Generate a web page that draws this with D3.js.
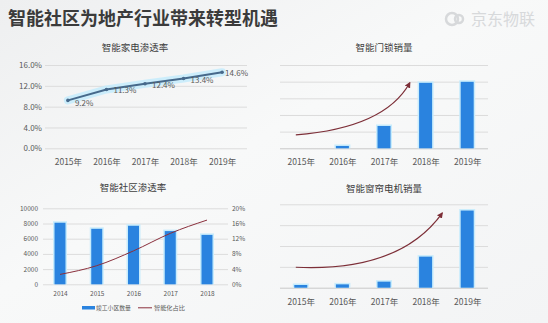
<!DOCTYPE html>
<html><head><meta charset="utf-8">
<script src="https://cdn.jsdelivr.net/npm/d3@7"></script>
<style>
html,body{margin:0;padding:0;background:#f5f6f7;}
svg{display:block;font-family:"Noto Sans CJK SC","Noto Sans",sans-serif;}
</style></head>
<body>
<svg id="c" width="548" height="323"></svg>
<script>
// ---------- data ----------
const mainTitle = "智能社区为地产行业带来转型机遇";
const logoText = "京东物联";
const years = ["2015年","2016年","2017年","2018年","2019年"];
const applianceRate = [9.2, 11.3, 12.4, 13.4, 14.6];
const applianceTicks = [0, 4, 8, 12, 16];
const lockSales = [0, 0.14, 1.34, 3.93, 3.99];
const lockTicks = [0, 1, 2, 3, 4, 5];
const curtainSales = [0.13, 0.16, 0.29, 1.49, 3.70];
const curtainTicks = [0, 1, 2, 3, 4];
const communityYears = ["2014","2015","2016","2017","2018"];
const completedCommunities = [8100, 7300, 7700, 7000, 6500];
const smartShare = [2.6, 4.9, 8.8, 13.4, 16.9];
const countTicks = [0, 2000, 4000, 6000, 8000, 10000];
const shareTicks = [0, 4, 8, 12, 16, 20];
const legendLabels = ["竣工小区数量", "智能化占比"];
// trend arrow annotations (category index, value)
const lockTrend = [[-0.12, 0.8], [2.02, 1.22], [2.62, 3.93]];
const curtainTrend = [[-0.12, 0.98], [2.38, 0.75], [3.4, 3.58]];

// ---------- styles ----------
const gridColor = "#dcdcdc", textColor = "#595959", barColor = "#2a83df", glowColor = "#c8ecfc";
const arrowColor = "#7d2f38";

const svg = d3.select("#c");
const defs = svg.append("defs");
const bg = defs.append("linearGradient").attr("id","bg").attr("x1",0).attr("y1",0).attr("x2",1).attr("y2",1);
bg.append("stop").attr("offset","0%").attr("stop-color","#eeeff0");
bg.append("stop").attr("offset","45%").attr("stop-color","#f8f9f9");
bg.append("stop").attr("offset","100%").attr("stop-color","#f3f4f5");
svg.append("rect").attr("width",548).attr("height",323).attr("fill","url(#bg)");

defs.append("marker").attr("id","arr").attr("viewBox","0 0 10 10").attr("refX",8).attr("refY",5)
  .attr("markerWidth",5).attr("markerHeight",5).attr("orient","auto")
  .append("path").attr("d","M0,0L10,5L0,10z").attr("fill",arrowColor);

// main title
svg.append("text").attr("x",8).attr("y",25).attr("font-size",18).attr("font-weight","bold")
  .attr("fill","#3b3b3b").text(mainTitle);
// logo
const logo = svg.append("g").attr("opacity",0.9);
logo.append("circle").attr("cx",452).attr("cy",19).attr("r",6).attr("fill","none").attr("stroke","#d4d6d8").attr("stroke-width",2.5);
logo.append("circle").attr("cx",459).attr("cy",19).attr("r",4).attr("fill","none").attr("stroke","#d4d6d8").attr("stroke-width",2.5);
logo.append("text").attr("x",471).attr("y",25).attr("font-size",16).attr("fill","#d4d6d8").text(logoText);

function title(x, y, t){
  svg.append("text").attr("x",x).attr("y",y).attr("text-anchor","middle").attr("font-size",9.5)
    .attr("fill","#404040").text(t);
}
function styleAxis(g, fs){
  g.select(".domain").remove();
  g.selectAll(".tick line").attr("stroke",gridColor).attr("stroke-width",1);
  g.selectAll(".tick text").attr("fill",textColor).attr("font-size",fs)
    .attr("font-family","'Noto Sans CJK SC','Noto Sans',sans-serif");
}

// ---------- Chart 1: line ----------
{
  const x = d3.scalePoint().domain(years).range([48.75, 241.25]).padding(0.5);
  const xr = [48.75-36, 241.25-36];
  const x1 = d3.scalePoint().domain(years).range([48.75, 241.25]).padding(0);
  const y = d3.scaleLinear().domain([0,16]).range([148.3, 65]);
  title(135, 51, "智能家电渗透率");
  const ya = svg.append("g").attr("transform","translate(45,0)")
    .call(d3.axisLeft(y).tickValues(applianceTicks).tickFormat(d=>d.toFixed(1)+"%").tickSizeInner(-202).tickSizeOuter(0).tickPadding(3));
  styleAxis(ya, 8);
  const xs = d3.scalePoint().domain(years).range([67.9, 222.1]);
  const xa = svg.append("g").attr("transform","translate(0,157)")
    .call(d3.axisBottom(xs).tickSize(0).tickPadding(2));
  styleAxis(xa, 8.5);
  const line = d3.line().x((d,i)=>xs(years[i])).y(d=>y(d));
  svg.append("path").datum(applianceRate).attr("d",line).attr("fill","none")
    .attr("stroke",glowColor).attr("stroke-width",8).attr("stroke-linecap","round").attr("opacity",0.9);
  svg.append("path").datum(applianceRate).attr("d",line).attr("fill","none")
    .attr("stroke","#46698b").attr("stroke-width",2);
  svg.selectAll(".c1pt").data(applianceRate).enter().append("circle")
    .attr("cx",(d,i)=>xs(years[i])).attr("cy",d=>y(d)).attr("r",1.8).attr("fill","#46698b");
  svg.selectAll(".c1lb").data(applianceRate).enter().append("text")
    .attr("x",(d,i)=>xs(years[i])+(i===4?3:7)).attr("y",(d,i)=>y(d)+(i===0?6:4))
    .attr("font-size",8).attr("fill",textColor).text(d=>d.toFixed(1)+"%");
}

// ---------- Bar chart helper (charts 2 & 4) ----------
function barChart(values, ticks, top, bottom, ttlY, label, trend){
  const xs = d3.scalePoint().domain(years).range([300.8, 467.2]);
  const y = d3.scaleLinear().domain([0, d3.max(ticks)]).range([bottom, top]);
  title(384, ttlY, label);
  const ya = svg.append("g").attr("transform","translate(280,0)")
    .call(d3.axisLeft(y).tickValues(ticks).tickFormat("").tickSizeInner(-208).tickSizeOuter(0));
  styleAxis(ya, 8);
  ya.selectAll(".tick line").filter(d=>d===0).attr("stroke","#c8c8c8");
  const xa = svg.append("g").attr("transform",`translate(0,${bottom+9})`)
    .call(d3.axisBottom(xs).tickSize(0).tickPadding(2));
  styleAxis(xa, 8.5);
  const bw = 13;
  const g = svg.append("g");
  g.selectAll(".glow").data(values).enter().append("rect")
    .attr("x",(d,i)=>xs(years[i])-bw/2-1.5).attr("width",bw+3)
    .attr("y",d=>y(d)-1.5).attr("height",d=>d>0?bottom-y(d)+1.5:0).attr("fill",glowColor);
  g.selectAll(".bar").data(values).enter().append("rect")
    .attr("x",(d,i)=>xs(years[i])-bw/2).attr("width",bw)
    .attr("y",d=>y(d)).attr("height",d=>bottom-y(d)).attr("fill",barColor);
  const xi = d3.scaleLinear().domain([0,4]).range([300.8, 467.2]);
  const p = trend.map(d=>[xi(d[0]), y(d[1])]);
  svg.append("path").attr("d",`M${p[0][0]},${p[0][1]}Q${p[1][0]},${p[1][1]} ${p[2][0]},${p[2][1]}`)
    .attr("fill","none").attr("stroke",arrowColor).attr("stroke-width",1.2).attr("marker-end","url(#arr)");
}
barChart(lockSales, lockTicks, 65, 148.3, 51, "智能门锁销量", lockTrend);
barChart(curtainSales, curtainTicks, 204.3, 287.7, 192, "智能窗帘电机销量", curtainTrend);

// ---------- Chart 3: combo ----------
{
  const xs = d3.scalePoint().domain(communityYears).range([60, 207]);
  const yl = d3.scaleLinear().domain([0,10000]).range([284.3, 208.3]);
  const yr = d3.scaleLinear().domain([0,20]).range([284.3, 208.3]);
  title(133, 191, "智能社区渗透率");
  const ya = svg.append("g").attr("transform","translate(43,0)")
    .call(d3.axisLeft(yl).tickValues(countTicks).tickFormat(d3.format("d")).tickSizeInner(-185).tickSizeOuter(0).tickPadding(5));
  styleAxis(ya, 6.5);
  const yb = svg.append("g").attr("transform","translate(228,0)")
    .call(d3.axisRight(yr).tickValues(shareTicks).tickFormat(d=>d+"%").tickSize(0).tickPadding(4));
  styleAxis(yb, 6.5);
  const xa = svg.append("g").attr("transform","translate(0,289)")
    .call(d3.axisBottom(xs).tickSize(0).tickPadding(2));
  styleAxis(xa, 6.5);
  const bw = 11;
  svg.selectAll(".c3g").data(completedCommunities).enter().append("rect")
    .attr("x",(d,i)=>xs(communityYears[i])-bw/2-1.5).attr("width",bw+3)
    .attr("y",d=>yl(d)-1.5).attr("height",d=>284.3-yl(d)+1.5).attr("fill",glowColor);
  svg.selectAll(".c3b").data(completedCommunities).enter().append("rect")
    .attr("x",(d,i)=>xs(communityYears[i])-bw/2).attr("width",bw)
    .attr("y",d=>yl(d)).attr("height",d=>284.3-yl(d)).attr("fill",barColor);
  const line = d3.line().x((d,i)=>xs(communityYears[i])).y(d=>yr(d)).curve(d3.curveMonotoneX);
  svg.append("path").datum(smartShare).attr("d",line).attr("fill","none")
    .attr("stroke","#8a2f3c").attr("stroke-width",1);
  // legend
  const lg = svg.append("g");
  lg.append("rect").attr("x",82).attr("y",306).attr("width",13).attr("height",3.5).attr("fill",barColor);
  lg.append("text").attr("x",96).attr("y",310).attr("font-size",5.8).attr("fill",textColor).text(legendLabels[0]);
  lg.append("line").attr("x1",138).attr("x2",152).attr("y1",307.8).attr("y2",307.8).attr("stroke","#8a2f3c").attr("stroke-width",1);
  lg.append("text").attr("x",154).attr("y",310).attr("font-size",6.2).attr("fill",textColor).text(legendLabels[1]);
}
</script>
</body></html>
